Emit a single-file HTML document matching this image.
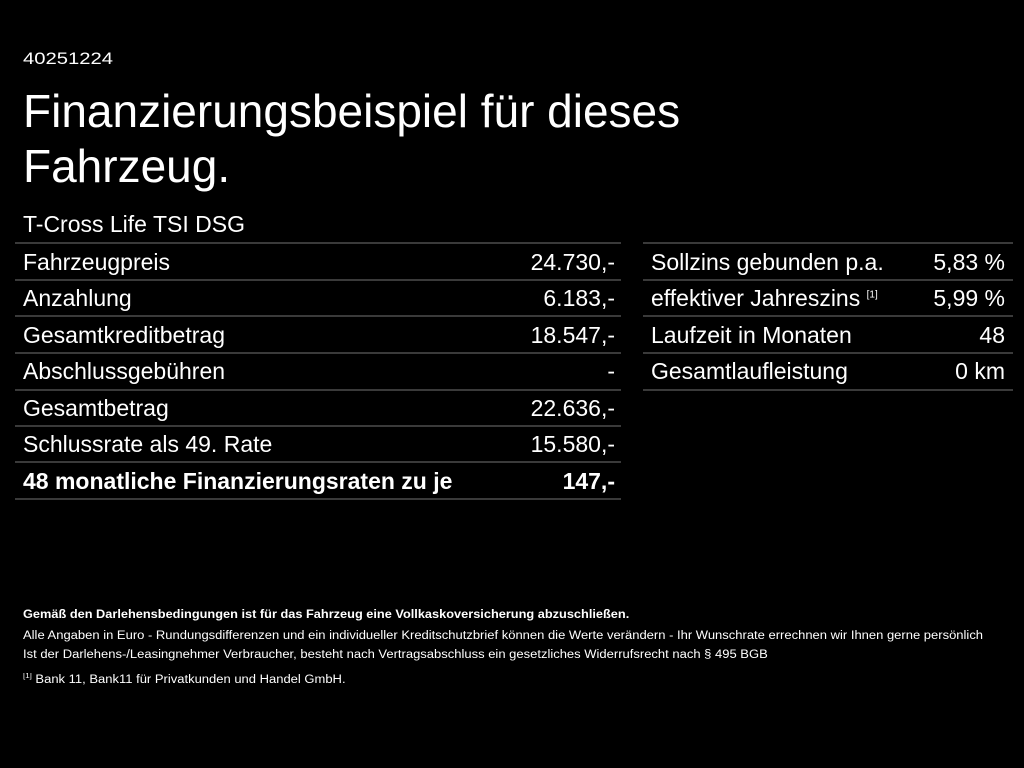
<!DOCTYPE html>
<html><head><meta charset="utf-8"><style>
body{margin:0;width:1024px;height:768px;background:#000;color:#fff;font-family:"Liberation Sans",sans-serif;position:relative;overflow:hidden}
.a{position:absolute;white-space:nowrap}
.l{position:absolute;height:2px;background:#3a3a3a}
.r{font-size:23px;line-height:24px}
.s{font-size:11.5px;line-height:12px;transform-origin:0 0;transform:scaleX(1.13)}
sup{line-height:0}
</style></head><body>
<div class="a" style="left:23px;top:49px;font-size:17px;transform-origin:0 0;transform:scaleX(1.19)">40251224</div>
<div class="a" style="left:23px;top:84px;font-size:46px;line-height:55px">Finanzierungsbeispiel für dieses<br>Fahrzeug.</div>
<div class="a r" style="left:23px;top:212px">T-Cross Life TSI DSG</div>

<div class="l" style="left:15px;width:606px;top:242px"></div>
<div class="l" style="left:15px;width:606px;top:279px"></div>
<div class="l" style="left:15px;width:606px;top:315px"></div>
<div class="l" style="left:15px;width:606px;top:352px"></div>
<div class="l" style="left:15px;width:606px;top:389px"></div>
<div class="l" style="left:15px;width:606px;top:425px"></div>
<div class="l" style="left:15px;width:606px;top:461px"></div>
<div class="l" style="left:15px;width:606px;top:498px"></div>

<div class="l" style="left:643px;width:370px;top:242px"></div>
<div class="l" style="left:643px;width:370px;top:279px"></div>
<div class="l" style="left:643px;width:370px;top:315px"></div>
<div class="l" style="left:643px;width:370px;top:352px"></div>
<div class="l" style="left:643px;width:370px;top:389px"></div>

<div class="a r" style="left:23px;top:250px">Fahrzeugpreis</div><div class="a r" style="right:409px;top:250px">24.730,-</div>
<div class="a r" style="left:23px;top:286px">Anzahlung</div><div class="a r" style="right:409px;top:286px">6.183,-</div>
<div class="a r" style="left:23px;top:323px">Gesamtkreditbetrag</div><div class="a r" style="right:409px;top:323px">18.547,-</div>
<div class="a r" style="left:23px;top:359px">Abschlussgebühren</div><div class="a r" style="right:409px;top:359px">-</div>
<div class="a r" style="left:23px;top:396px">Gesamtbetrag</div><div class="a r" style="right:409px;top:396px">22.636,-</div>
<div class="a r" style="left:23px;top:432px">Schlussrate als 49. Rate</div><div class="a r" style="right:409px;top:432px">15.580,-</div>
<div class="a r" style="left:23px;top:469px;font-weight:bold">48 monatliche Finanzierungsraten zu je</div><div class="a r" style="right:409px;top:469px;font-weight:bold">147,-</div>

<div class="a r" style="left:651px;top:250px">Sollzins gebunden p.a.</div><div class="a r" style="right:19px;top:250px">5,83 %</div>
<div class="a r" style="left:651px;top:286px">effektiver Jahreszins <sup style="font-size:10px">[1]</sup></div><div class="a r" style="right:19px;top:286px">5,99 %</div>
<div class="a r" style="left:651px;top:323px">Laufzeit in Monaten</div><div class="a r" style="right:19px;top:323px">48</div>
<div class="a r" style="left:651px;top:359px">Gesamtlaufleistung</div><div class="a r" style="right:19px;top:359px">0 km</div>

<div class="a s" style="left:23px;top:609px;font-weight:bold;transform:scaleX(1.11)">Gemäß den Darlehensbedingungen ist für das Fahrzeug eine Vollkaskoversicherung abzuschließen.</div>
<div class="a s" style="left:23px;top:630px">Alle Angaben in Euro - Rundungsdifferenzen und ein individueller Kreditschutzbrief können die Werte verändern - Ihr Wunschrate errechnen wir Ihnen gerne persönlich</div>
<div class="a s" style="left:23px;top:649px">Ist der Darlehens-/Leasingnehmer Verbraucher, besteht nach Vertragsabschluss ein gesetzliches Widerrufsrecht nach § 495 BGB</div>
<div class="a s" style="left:23px;top:674px"><sup style="font-size:7px">[1]</sup> Bank 11, Bank11 für Privatkunden und Handel GmbH.</div>
</body></html>
